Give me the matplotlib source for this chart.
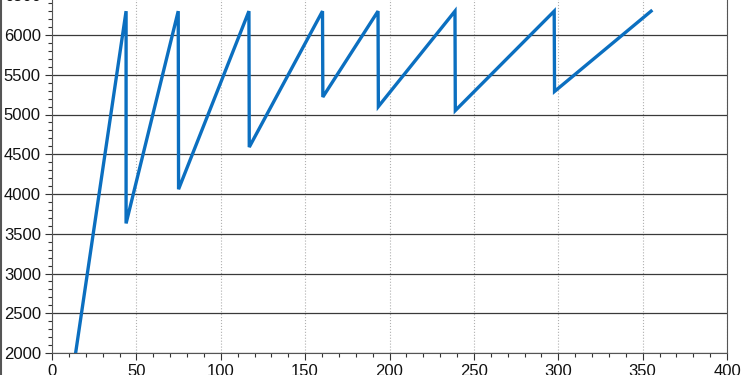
import matplotlib
matplotlib.use("Agg")
import matplotlib.pyplot as plt
from matplotlib.ticker import MultipleLocator
from matplotlib.lines import Line2D

# sawtooth readings: rise to peak, then sudden drop at same x
x_vals = [14, 43.9, 43.9, 74.8, 75.0, 116.7, 116.9, 160.3, 160.5, 193.2, 193.4, 238.8, 239.0, 297.6, 297.8, 355]
y_vals = [2000, 6300, 3630, 6300, 4060, 6300, 4590, 6300, 5220, 6300, 5100, 6300, 5050, 6300, 5290, 6300]

plt.rcParams['font.family'] = ['Liberation Sans', 'DejaVu Sans']

fig = plt.figure(figsize=(7.5, 3.75), dpi=100)
ax = fig.add_axes([52/750, 22/375, 675/750, 357.75/375])

ax.plot(x_vals, y_vals, color='#0b6fc0', linewidth=2.4, solid_joinstyle='miter')

ax.set_xlim(0, 400)
ax.set_ylim(2000, 6500)
ax.xaxis.set_major_locator(MultipleLocator(50))
ax.xaxis.set_minor_locator(MultipleLocator(10))
ax.yaxis.set_major_locator(MultipleLocator(500))
ax.yaxis.set_minor_locator(MultipleLocator(100))

ax.grid(axis='y', which='major', color='#3a3a3a', linewidth=0.9, linestyle='-')
ax.grid(axis='x', which='major', color='#b0b0b0', linewidth=0.8, linestyle=':')
ax.set_axisbelow(True)

ax.tick_params(which='major', direction='out', length=5, width=0.8, labelsize=12, colors='#333333', pad=3)
ax.tick_params(which='minor', direction='out', length=3, width=0.8, colors='#333333')
ax.tick_params(labelcolor='#111111')

for s in ax.spines.values():
    s.set_color('#555555')
    s.set_linewidth(0.8)

fig.add_artist(Line2D([0.0015, 0.0015], [0, 1], transform=fig.transFigure, color='#555555', linewidth=1.5))

fig.savefig('out.png', dpi=100)
